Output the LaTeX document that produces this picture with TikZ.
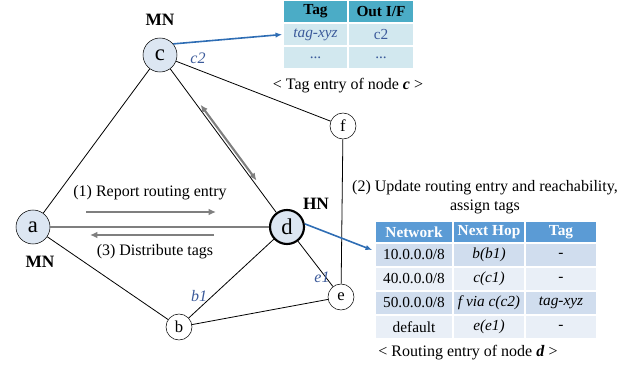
\documentclass[tikz,border=0pt]{standalone}
\usepackage{fontspec}
\setmainfont{Liberation Serif}
\usetikzlibrary{positioning,calc,arrows.meta}

\definecolor{nodefill}{HTML}{DCE6F2}
\definecolor{labblue}{HTML}{3B5A9A}
\definecolor{tealhead}{HTML}{4BACC6}
\definecolor{tealrow}{HTML}{D2E8EF}
\definecolor{bluehead}{HTML}{5B9BD5}
\definecolor{bluerowa}{HTML}{D0DDEE}
\definecolor{bluerowb}{HTML}{E9EFF7}
\definecolor{arrowgray}{HTML}{7F7F7F}
\definecolor{linkblue}{HTML}{2E6DB4}

\tikzset{
  bignode/.style={circle, draw, fill=nodefill, minimum size=25.5pt, inner sep=0pt, font=\fontsize{17}{17}\selectfont},
  smallnode/.style={circle, draw, fill=white, minimum size=19.5pt, inner sep=0pt, font=\fontsize{12.5}{12.5}\selectfont},
  link/.style={line width=0.6pt},
  grayarrow/.style={draw=arrowgray, line width=2pt, -{Latex[length=5.5pt,width=5pt]}},
  bluearrow/.style={draw=linkblue, line width=1.2pt, -{Latex[length=5pt,width=4pt]}},
  role/.style={font=\bfseries\fontsize{13}{13}\selectfont},
  ifname/.style={text=labblue, font=\itshape\fontsize{12}{12}\selectfont},
  txt/.style={font=\fontsize{12}{14}\selectfont},
  cell/.style={draw=white, line width=1.2pt, inner sep=0pt, font=\fontsize{11.5}{12}\selectfont},
}

\begin{document}
\begin{tikzpicture}[x=0.75pt, y=-0.75pt]
\useasboundingbox (0,0) rectangle (639,367);

% nodes
\node[bignode] (c) at (160,55) {c};
\node[bignode] (a) at (33,227) {a};
\node[bignode, line width=1.6pt] (d) at (287,227) {d};
\node[smallnode] (b) at (179,327) {b};
\node[smallnode] (e) at (341,297) {e};
\node[smallnode] (f) at (343,126) {f};

\node[role] at (160,20) {MN};
\node[role] at (40,262) {MN};
\node[role] at (316,204) {HN};

% links
\draw[link] (c) -- (a);
\draw[link] (c) -- (d);
\draw[link] (c) -- (f);
\draw[link] (a) -- (b);
\draw[link] (b) -- (d);
\draw[link] (b) -- (e);
\draw[link] (d) -- (e);
\draw[link] (f) -- (e);
\draw[draw=arrowgray, line width=1.4pt] (a) -- (d);

\node[ifname] at (198,58) {c2};
\node[ifname] at (199,296) {b1};
\node[ifname] at (322,277) {e1};

% report / distribute
\coordinate (rep1) at (86,212);
\coordinate (rep2) at (216,212);
\coordinate (dis1) at (214,235);
\coordinate (dis2) at (90,235);
\draw[grayarrow] (rep1) -- (rep2);
\draw[grayarrow] (dis1) -- (dis2);
\node[txt] at (150,193) {(1) Report routing entry};
\node[txt] at (155,252) {(3) Distribute tags};
\draw[grayarrow, {Latex[length=5.5pt,width=5pt]}-{Latex[length=5.5pt,width=5pt]}, line width=1.6pt]
  ($(c)!0.3!(d) + (2.5,-1.8)$) -- ($(c)!0.74!(d) + (2.5,-1.8)$);

% tag entry of node c
\node[cell, fill=tealhead, minimum width=48.75pt, minimum height=17.25pt, font=\bfseries\fontsize{11.5}{12}\selectfont] (th1) at (315.5,11.5) {Tag};
\node[cell, fill=tealhead, minimum width=48.75pt, minimum height=17.25pt, font=\bfseries\fontsize{11.5}{12}\selectfont] (th2) at (381,11.5) {Out I/F};
\node[cell, fill=tealrow, minimum width=48.75pt, minimum height=17.25pt, text=labblue, font=\itshape\fontsize{11.5}{12}\selectfont] (tr1) at (315.5,34.5) {tag-xyz};
\node[cell, fill=tealrow, minimum width=48.75pt, minimum height=17.25pt, text=labblue] (tr2) at (381,34.5) {c2};
\node[cell, fill=tealrow, minimum width=48.75pt, minimum height=17.25pt, text=labblue] (tr3) at (315.5,57.5) {...};
\node[cell, fill=tealrow, minimum width=48.75pt, minimum height=17.25pt, text=labblue] (tr4) at (381,57.5) {...};
\node[txt] (tcap) at (348,86) {< Tag entry of node \textbf{\textit{c}} >};
\draw[bluearrow] (c.40) -- (tr1.west);

% routing entry of node d
\node[txt, align=center] (rtitle) at (485,197) {(2) Update routing entry and reachability,\\assign tags};
\node[cell, fill=bluehead, text=white, minimum width=58.5pt, minimum height=16.5pt, font=\bfseries\fontsize{11.5}{12}\selectfont] (rh1) at (414,232) {Network};
\node[cell, fill=bluehead, text=white, minimum width=54pt, minimum height=16.5pt, font=\bfseries\fontsize{11.5}{12}\selectfont] (rh2) at (489,232) {Next Hop};
\node[cell, fill=bluehead, text=white, minimum width=54pt, minimum height=16.5pt, font=\bfseries\fontsize{11.5}{12}\selectfont] (rh3) at (561,232) {Tag};
\foreach \net/\hop/\tag/\rowcol [count=\r] in {{10.0.0.0/8}/{b(b1)}/{-}/bluerowa, {40.0.0.0/8}/{c(c1)}/{-}/bluerowb, {50.0.0.0/8}/{f via c(c2)}/{tag-xyz}/bluerowa, {default}/{e(e1)}/{-}/bluerowb}{
  \node[cell, fill=\rowcol, minimum width=58.5pt, minimum height=18pt] (rn\r) at (414,231+24*\r) {\net};
  \node[cell, fill=\rowcol, minimum width=54pt, minimum height=18pt, font=\itshape\fontsize{11.5}{12}\selectfont] (rp\r) at (489,231+24*\r) {\hop};
  \node[cell, fill=\rowcol, minimum width=54pt, minimum height=18pt, font=\itshape\fontsize{11.5}{12}\selectfont] (rt\r) at (561,231+24*\r) {\tag};
}
\node[txt] (rcap) at (468,353) {< Routing entry of node \textbf{\textit{d}} >};
\draw[bluearrow] (d.10) -- ($(rn1.west) + (-2,-5)$);
\end{tikzpicture}
\end{document}
